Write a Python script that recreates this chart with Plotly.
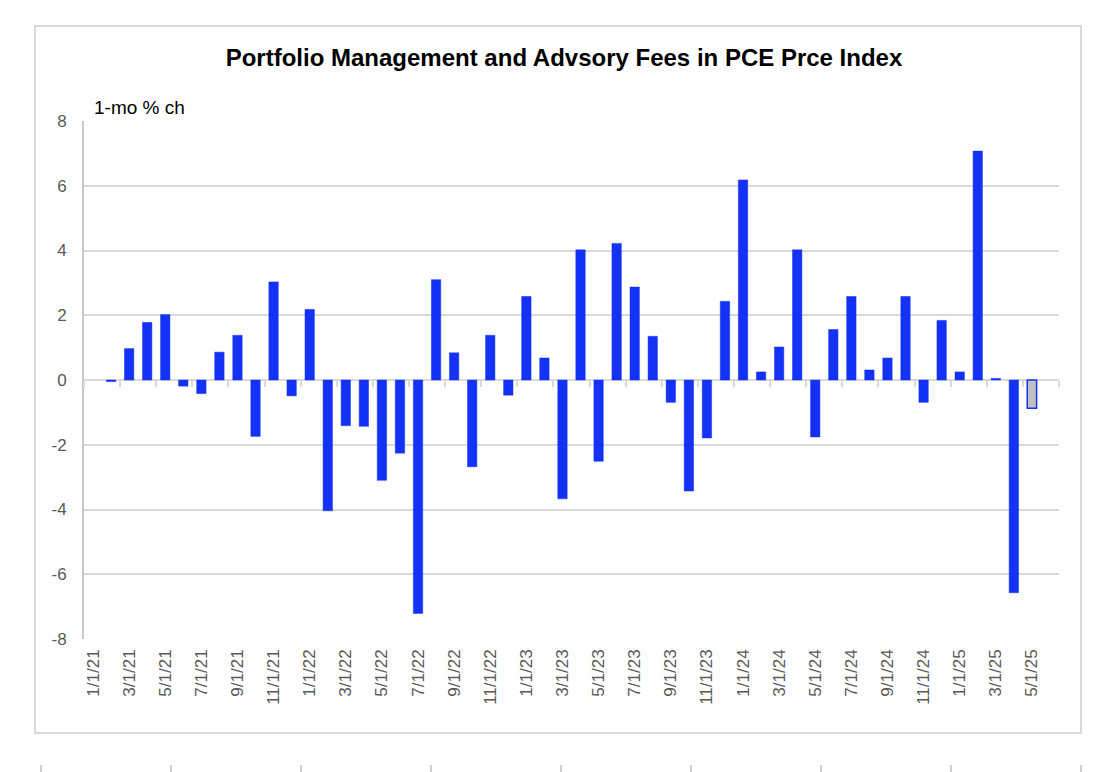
import plotly.graph_objects as go

# monthly categories, 1/1/21 .. 6/1/25 (last one is empty padding on the axis)
MONTHS_21 = ["1/1/21", "2/1/21", "3/1/21", "4/1/21", "5/1/21", "6/1/21",
             "7/1/21", "8/1/21", "9/1/21", "10/1/21", "11/1/21", "12/1/21"]
MONTHS_22 = ["1/1/22", "2/1/22", "3/1/22", "4/1/22", "5/1/22", "6/1/22",
             "7/1/22", "8/1/22", "9/1/22", "10/1/22", "11/1/22", "12/1/22"]
MONTHS_23 = ["1/1/23", "2/1/23", "3/1/23", "4/1/23", "5/1/23", "6/1/23",
             "7/1/23", "8/1/23", "9/1/23", "10/1/23", "11/1/23", "12/1/23"]
MONTHS_24 = ["1/1/24", "2/1/24", "3/1/24", "4/1/24", "5/1/24", "6/1/24",
             "7/1/24", "8/1/24", "9/1/24", "10/1/24", "11/1/24", "12/1/24"]
MONTHS_25 = ["1/1/25", "2/1/25", "3/1/25", "4/1/25", "5/1/25", "6/1/25"]
DATES = MONTHS_21 + MONTHS_22 + MONTHS_23 + MONTHS_24 + MONTHS_25

# 1-month % change
CHG_21 = [None, -0.05, 0.97, 1.78, 2.02, -0.19, -0.42, 0.86, 1.38, -1.74, 3.03, -0.49]
CHG_22 = [2.18, -4.04, -1.41, -1.43, -3.10, -2.26, -7.21, 3.10, 0.84, -2.68, 1.38, -0.47]
CHG_23 = [2.58, 0.68, -3.67, 4.02, -2.51, 4.22, 2.87, 1.35, -0.69, -3.43, -1.79, 2.43]
CHG_24 = [6.18, 0.25, 1.02, 4.02, -1.76, 1.56, 2.58, 0.31, 0.68, 2.58, -0.69, 1.84]
CHG_25 = [0.25, 7.07, 0.05, -6.57, -0.87, None]
CHANGES = CHG_21 + CHG_22 + CHG_23 + CHG_24 + CHG_25

LATEST = "5/1/25"  # highlighted (preliminary) month
Y_TICKS = [-8, -6, -4, -2, 0, 2, 4, 6, 8]
Y_LABELS = ["-8", "-6", "-4", "-2", "0", "2", "4", "6", "8"]

BLUE = "#1432f5"
GRAY_BAR = "#c0c0c0"
GRID = "#d9d9d9"
FONT = "Liberation Sans, Arial, Helvetica, sans-serif"

# the page body adds an 8px margin, so screen positions are shifted by OFF
OFF = 8
W, H = 1112, 772
PLOT_L, PLOT_R, PLOT_T, PLOT_B = 84, 1059, 121, 639
L, T = PLOT_L - OFF, PLOT_T - OFF
R, B = W - (PLOT_R - OFF), H - (PLOT_B - OFF)
PW, PH = PLOT_R - PLOT_L, PLOT_B - PLOT_T


def px_x(x):
    return (x - PLOT_L) / PW


def px_y(y):
    return (PLOT_B - y) / PH


bar_colors = [GRAY_BAR if d == LATEST else BLUE for d in DATES]
line_widths = [1.5 if d == LATEST else 0.5 for d in DATES]

fig = go.Figure()
fig.add_trace(go.Bar(
    x=DATES, y=CHANGES,
    marker=dict(color=bar_colors, line=dict(color=BLUE, width=line_widths)),
    showlegend=False, hoverinfo="x+y",
))
# empty helper so the zero-line tick axis gets drawn
fig.add_trace(go.Scatter(x=[], y=[], xaxis="x2", showlegend=False, hoverinfo="skip"))

n = len(DATES)
label_idx = list(range(0, n, 2))
boundaries = [i - 0.5 for i in range(0, n + 1, 2)]

fig.update_layout(
    width=W, height=H,
    margin=dict(l=L, r=R, t=T, b=B),
    paper_bgcolor="white", plot_bgcolor="white",
    bargap=0.48,
    font=dict(family=FONT, color="#595959"),
    title=dict(
        text="<b>Portfolio Management and Advsory Fees in PCE Prce Index</b>",
        x=0.5, xanchor="center", y=1 - (58 - OFF) / H, yanchor="middle",
        yref="container", font=dict(size=24, color="black", family=FONT),
    ),
    xaxis=dict(
        type="category", categoryorder="array", categoryarray=DATES,
        range=[-0.5, n - 0.5],
        tickmode="array",
        tickvals=[DATES[i] for i in label_idx],
        ticktext=[DATES[i] for i in label_idx],
        tickangle=-90, tickfont=dict(size=17, color="#595959"),
        ticks="", showgrid=False, showline=False, zeroline=False,
        ticklabelstandoff=6,
    ),
    xaxis2=dict(
        overlaying="x", anchor="free", position=0.5, side="bottom",
        range=[-0.5, n - 0.5], tickmode="array", tickvals=boundaries,
        ticks="outside", ticklen=6, tickwidth=2, tickcolor=GRID,
        showticklabels=False, showgrid=False, zeroline=False, showline=False,
    ),
    yaxis=dict(
        range=[-8, 8], tickmode="array", tickvals=Y_TICKS, ticktext=Y_LABELS,
        tickfont=dict(size=17, color="#595959"),
        showgrid=True, gridcolor=GRID, gridwidth=2,
        zeroline=True, zerolinecolor=GRID, zerolinewidth=2,
        showline=True, linecolor="#c8c8c8", linewidth=2,
        ticks="", ticklabelstandoff=12,
    ),
)

fig.add_annotation(
    text="1-mo % ch", xref="paper", yref="paper",
    x=px_x(92), y=px_y(108), xanchor="left", yanchor="middle",
    showarrow=False, font=dict(size=19, color="black", family=FONT),
)

# chart frame
fig.add_shape(
    type="rect", xref="paper", yref="paper",
    x0=px_x(35), x1=px_x(1081), y0=px_y(733), y1=px_y(26),
    line=dict(color=GRID, width=2), fillcolor="rgba(0,0,0,0)", layer="below",
)

# sheet cell borders peeking under the chart
for cx in [41 + 130 * k for k in range(9)]:
    fig.add_shape(
        type="line", xref="paper", yref="paper",
        x0=px_x(cx), x1=px_x(cx), y0=px_y(765), y1=px_y(772),
        line=dict(color="#d0d0d0", width=2),
    )

fig.write_html("out.html")
